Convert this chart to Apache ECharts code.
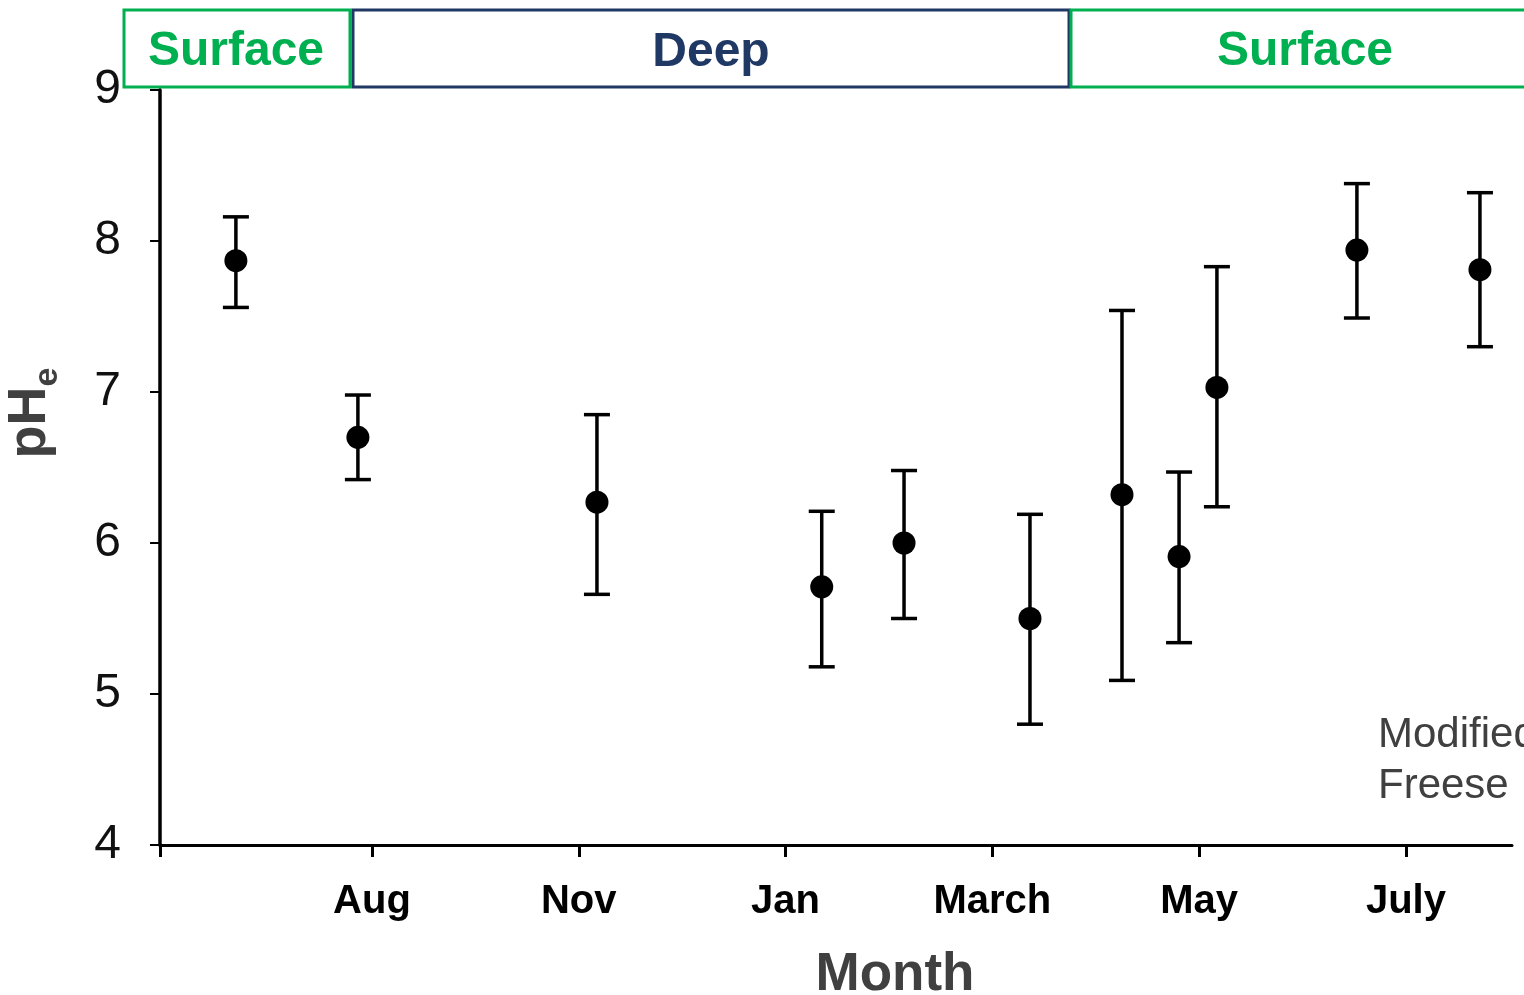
<!DOCTYPE html>
<html>
<head>
<meta charset="utf-8">
<title>pHe by month</title>
<script src="https://cdn.jsdelivr.net/npm/echarts@6/dist/echarts.min.js"></script>
<style>
  html, body { margin: 0; padding: 0; background: #ffffff; }
  #chart { width: 1524px; height: 995px; }
</style>
</head>
<body>
<div id="chart"></div>
<script>
// Month tick labels, placed at evenly spaced slots along the x axis
const monthLabels = ['Aug', 'Nov', 'Jan', 'March', 'May', 'July'];
const monthSlots = [1, 2, 3, 4, 5, 6];

// Sampling times, expressed in the same slot units as the month ticks
const sampleSlot = [0.342, 0.932, 2.088, 3.175, 3.573, 4.182, 4.627, 4.903, 5.086, 5.763, 6.358];
// Mean extracellular pH and the ends of each error bar
const meanPH  = [7.87, 6.70, 6.27, 5.71, 6.00, 5.50, 6.32, 5.91, 7.03, 7.94, 7.81];
const upperPH = [8.16, 6.98, 6.85, 6.21, 6.48, 6.19, 7.54, 6.47, 7.83, 8.38, 8.32];
const lowerPH = [7.56, 6.42, 5.66, 5.18, 5.50, 4.80, 5.09, 5.34, 6.24, 7.49, 7.30];

// pH axis ticks
const phTicks = [4, 5, 6, 7, 8, 9];

// Depth phases shown in the banner above the plot
const phaseNames = ['Surface', 'Deep', 'Surface'];

const X_MIN = -0.025;
const X_MAX = 6.513;

const pointData = sampleSlot.map((x, i) => [x, meanPH[i]]);
const barData = sampleSlot.map((x, i) => [x, lowerPH[i], upperPH[i]]);

const chart = echarts.init(document.getElementById('chart'), null, { renderer: 'canvas' });

const GREEN = '#00b050';
const NAVY = '#1f3864';
const FONT = '"Liberation Sans", Arial, Helvetica, sans-serif';

function renderErrorBar(params, api) {
  const x = api.value(0);
  const lo = api.coord([x, api.value(1)]);
  const hi = api.coord([x, api.value(2)]);
  const half = 13;
  const style = { stroke: '#000', lineWidth: 3.5, fill: null };
  return {
    type: 'group',
    children: [
      { type: 'line', shape: { x1: lo[0], y1: lo[1], x2: hi[0], y2: hi[1] }, style },
      { type: 'line', shape: { x1: hi[0] - half, y1: hi[1], x2: hi[0] + half, y2: hi[1] }, style },
      { type: 'line', shape: { x1: lo[0] - half, y1: lo[1], x2: lo[0] + half, y2: lo[1] }, style }
    ]
  };
}

const option = {
  backgroundColor: '#ffffff',
  animation: false,
  grid: { left: 160, right: 12, top: 90, bottom: 150, containLabel: false },
  xAxis: {
    type: 'value',
    min: X_MIN,
    max: X_MAX,
    splitLine: { show: false },
    axisLine: { show: true, onZero: false, lineStyle: { color: '#000', width: 3 } },
    axisTick: {
      show: true,
      inside: false,
      length: 12,
      lineStyle: { color: '#000', width: 3 },
      customValues: [X_MIN].concat(monthSlots)
    },
    axisLabel: {
      show: true,
      customValues: monthSlots,
      formatter: v => {
        const idx = monthSlots.indexOf(Math.round(v));
        return idx >= 0 ? monthLabels[idx] : '';
      },
      margin: 37,
      color: '#000',
      fontFamily: FONT,
      fontWeight: 'bold',
      fontSize: 40
    }
  },
  yAxis: {
    type: 'value',
    min: phTicks[0],
    max: phTicks[phTicks.length - 1],
    interval: 1,
    splitLine: { show: false },
    axisLine: { show: true, onZero: false, lineStyle: { color: '#000', width: 3.5 } },
    axisTick: { show: true, inside: false, length: 10, lineStyle: { color: '#000', width: 2 } },
    axisLabel: {
      margin: 39,
      color: '#111',
      fontFamily: FONT,
      fontSize: 48
    }
  },
  series: [
    {
      type: 'custom',
      name: 'range',
      renderItem: renderErrorBar,
      data: barData,
      encode: { x: 0, y: [1, 2] },
      z: 2
    },
    {
      type: 'scatter',
      name: 'pHe',
      data: pointData,
      symbol: 'circle',
      symbolSize: 23,
      itemStyle: { color: '#000', opacity: 1 },
      z: 3
    }
  ],
  graphic: [
    // phase banner
    { type: 'rect', shape: { x: 124, y: 10, width: 226, height: 77 },
      style: { fill: '#fff', stroke: GREEN, lineWidth: 3 } },
    { type: 'rect', shape: { x: 353, y: 10, width: 716, height: 77 },
      style: { fill: '#fff', stroke: NAVY, lineWidth: 3 } },
    { type: 'rect', shape: { x: 1071, y: 10, width: 480, height: 77 },
      style: { fill: '#fff', stroke: GREEN, lineWidth: 3 } },
    { type: 'text', x: 236, y: 52,
      style: { text: phaseNames[0], fill: GREEN, font: 'bold 48px ' + FONT, align: 'center', verticalAlign: 'middle' } },
    { type: 'text', x: 711, y: 53,
      style: { text: phaseNames[1], fill: NAVY, font: 'bold 48px ' + FONT, align: 'center', verticalAlign: 'middle' } },
    { type: 'text', x: 1305, y: 52,
      style: { text: phaseNames[2], fill: GREEN, font: 'bold 48px ' + FONT, align: 'center', verticalAlign: 'middle' } },
    // axis titles
    { type: 'text', x: 895, y: 975,
      style: { text: 'Month', fill: '#404040', font: 'bold 53px ' + FONT, align: 'center', verticalAlign: 'middle' } },
    { type: 'text', x: 38, y: 413, rotation: Math.PI / 2,
      style: {
        text: '{a|pH}{b|e}',
        align: 'center',
        verticalAlign: 'middle',
        rich: {
          a: { fill: '#404040', fontFamily: FONT, fontWeight: 'bold', fontSize: 54, lineHeight: 54, padding: [0, 0, 16, 0] },
          b: { fill: '#404040', fontFamily: FONT, fontWeight: 'bold', fontSize: 34, lineHeight: 34, verticalAlign: 'bottom' }
        }
      } },
    // source note
    { type: 'text', x: 1378, y: 710,
      style: { text: 'Modified\nFreese', fill: '#404040', font: '42px ' + FONT, lineHeight: 51, align: 'left', verticalAlign: 'top' } }
  ]
};

chart.setOption(option);
</script>
</body>
</html>
